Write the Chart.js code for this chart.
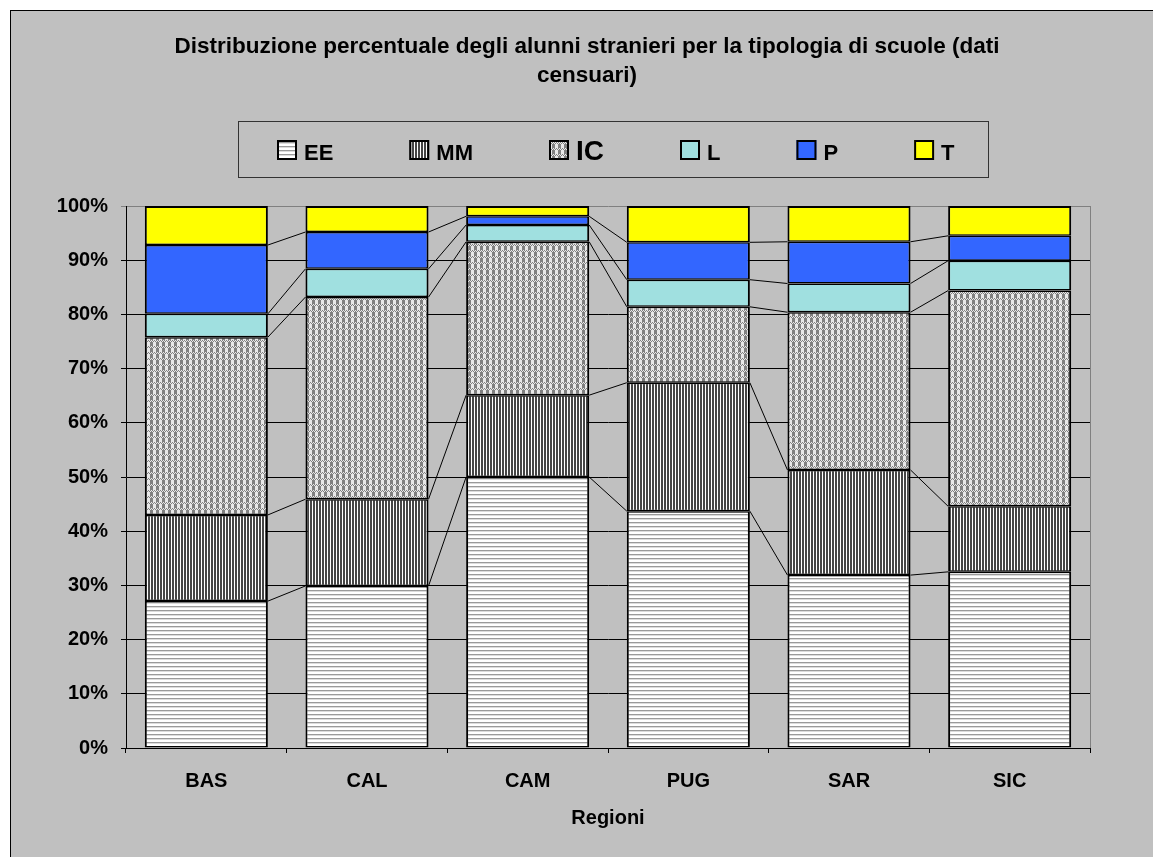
<!DOCTYPE html>
<html>
<head>
<meta charset="utf-8">
<script src="https://cdn.jsdelivr.net/npm/chart.js@4.4.1/dist/chart.umd.min.js"></script>
<style>
  html, body { margin: 0; padding: 0; background: #fff; overflow: hidden; }
  canvas { display: block; }
</style>
</head>
<body>
<canvas id="alunniChart" width="1153" height="857"></canvas>
<script>
// dati (percentuali)
var regioni = ['BAS', 'CAL', 'CAM', 'PUG', 'SAR', 'SIC'];
var serieNomi = ['EE', 'MM', 'IC', 'L', 'P', 'T'];
var valEE = [27.1, 29.9, 50.0, 43.7, 31.9, 32.5];
var valMM = [15.9, 16.0, 15.1, 23.7, 19.4, 12.1];
var valIC = [32.8, 37.3, 28.3, 14.0, 29.1, 39.8];
var valL = [4.3, 5.2, 3.1, 5.0, 5.3, 5.5];
var valP = [12.7, 6.8, 1.6, 6.9, 7.7, 4.6];
var valT = [7.2, 4.8, 1.9, 6.7, 6.6, 5.5];
var yTickLabels = ['0%', '10%', '20%', '30%', '40%', '50%', '60%', '70%', '80%', '90%', '100%'];

var FONT = '"Liberation Sans", Arial, sans-serif';
Chart.defaults.font.family = FONT;
Chart.defaults.color = '#000';

// retini stile Excel
function makePattern(w, h, draw) {
    var c = document.createElement('canvas');
    c.width = w; c.height = h;
    var g = c.getContext('2d');
    draw(g);
    return g.createPattern(c, 'repeat');
}
var patEE = makePattern(4, 4, function (g) {
    g.fillStyle = '#fff'; g.fillRect(0, 0, 4, 4);
    g.fillStyle = '#9a9a9a'; g.fillRect(0, 2, 4, 1);
    g.fillStyle = '#dcdcdc'; g.fillRect(0, 3, 4, 1);
});
var patMM = makePattern(3, 3, function (g) {
    g.fillStyle = '#fff'; g.fillRect(0, 0, 3, 3);
    g.fillStyle = '#454545'; g.fillRect(1, 0, 2, 3);
});
var patIC = makePattern(6, 6, function (g) {
    g.fillStyle = '#e8e8e8'; g.fillRect(0, 0, 6, 6);
    g.fillStyle = '#808080'; g.fillRect(0, 0, 3, 4);
    for (var px = 0; px < 6; px++) {
        g.fillRect(px, 4 + (px % 2), 1, 1);
    }
});

var fills = [patEE, patMM, patIC, '#a0e0e0', '#3366ff', '#ffff00'];
var valori = [valEE, valMM, valIC, valL, valP, valT];

var datasets = serieNomi.map(function (nome, i) {
    return {
        label: nome,
        data: valori[i],
        backgroundColor: fills[i],
        borderColor: '#000',
        borderWidth: { top: i === 5 ? 2 : 1.5, bottom: 1.5, left: 2, right: 2 },
        borderSkipped: false,
        categoryPercentage: 1.0,
        barPercentage: 0.766
    };
});

// sfondo, cornice, titolo e legenda
var decorPlugin = {
    id: 'decor',
    beforeDraw: function (chart) {
        var ctx = chart.ctx;
        ctx.save();
        ctx.fillStyle = '#fff';
        ctx.fillRect(0, 0, chart.width, chart.height);
        ctx.fillStyle = '#c0c0c0';
        ctx.fillRect(10, 10, chart.width, chart.height);
        ctx.strokeStyle = '#000';
        ctx.lineWidth = 1;
        ctx.strokeRect(10.5, 10.5, chart.width + 10, chart.height + 10);
        ctx.restore();
    },
    beforeDatasetsDraw: function (chart) {
        var ctx = chart.ctx;
        var a = chart.chartArea;
        ctx.save();
        // bordo destro dell'area del grafico
        ctx.strokeStyle = '#808080';
        ctx.lineWidth = 1;
        ctx.beginPath();
        ctx.moveTo(Math.round(a.right) + 0.5, a.top);
        ctx.lineTo(Math.round(a.right) + 0.5, a.bottom);
        ctx.stroke();
        // linee di serie tra le colonne
        ctx.strokeStyle = '#000';
        ctx.beginPath();
        for (var d = 0; d < 5; d++) {
            var meta = chart.getDatasetMeta(d);
            for (var i = 0; i < meta.data.length - 1; i++) {
                var b1 = meta.data[i], b2 = meta.data[i + 1];
                ctx.moveTo(b1.x + b1.width / 2, b1.y);
                ctx.lineTo(b2.x - b2.width / 2, b2.y);
            }
        }
        ctx.stroke();
        ctx.restore();
    },
    afterDraw: function (chart) {
        var ctx = chart.ctx;
        ctx.save();
        ctx.fillStyle = '#000';
        ctx.textAlign = 'center';
        ctx.textBaseline = 'middle';
        ctx.font = 'bold 22.5px ' + FONT;
        ctx.fillText('Distribuzione percentuale degli alunni stranieri per la tipologia di scuole (dati', 587, 47);
        ctx.fillText('censuari)', 587, 76);

        // legenda
        ctx.strokeStyle = '#333';
        ctx.lineWidth = 1;
        ctx.strokeRect(238.5, 121.5, 750, 56);
        ctx.textAlign = 'left';
        ctx.textBaseline = 'alphabetic';
        var x = 277;
        serieNomi.forEach(function (nome, i) {
            ctx.fillStyle = fills[i];
            ctx.fillRect(x, 140, 20, 20);
            ctx.strokeStyle = '#000';
            ctx.lineWidth = 2;
            ctx.strokeRect(x + 1, 141, 18, 18);
            ctx.fillStyle = '#000';
            ctx.font = 'bold ' + (nome === 'IC' ? 28 : 22) + 'px ' + FONT;
            ctx.fillText(nome, x + 27, 160);
            x += 27 + ctx.measureText(nome).width + 76;
        });
        ctx.restore();
    }
};

var ctxAlunni = document.getElementById('alunniChart').getContext('2d');
var alunniChart = new Chart(ctxAlunni, {
    type: 'bar',
    data: {
        labels: regioni,
        datasets: datasets
    },
    plugins: [decorPlugin],
    options: {
        responsive: false,
        animation: false,
        layout: { padding: { top: 206, left: 0, right: 63, bottom: 0 } },
        plugins: {
            legend: { display: false },
            title: { display: false },
            tooltip: { enabled: false }
        },
        scales: {
            x: {
                stacked: true,
                afterFit: function (scale) { scale.height = 109; },
                grid: {
                    offset: true,
                    drawOnChartArea: false,
                    drawTicks: true,
                    tickLength: 5,
                    color: '#000'
                },
                border: { color: '#000', width: 1 },
                ticks: {
                    padding: 16,
                    font: { size: 20, weight: 'bold' }
                },
                title: {
                    display: true,
                    text: 'Regioni',
                    font: { size: 20, weight: 'bold' },
                    padding: { top: 0, bottom: 27 }
                }
            },
            y: {
                stacked: true,
                min: 0,
                max: 100,
                afterFit: function (scale) { scale.width = 126; },
                grid: {
                    color: function (c) { return c.tick && c.tick.value === 100 ? '#808080' : '#000'; },
                    tickLength: 5
                },
                border: { color: '#000', width: 1 },
                ticks: {
                    stepSize: 10,
                    padding: 13,
                    font: { size: 20, weight: 'bold' },
                    callback: function (v, idx) { return yTickLabels[idx]; }
                }
            }
        }
    }
});
</script>
</body>
</html>
